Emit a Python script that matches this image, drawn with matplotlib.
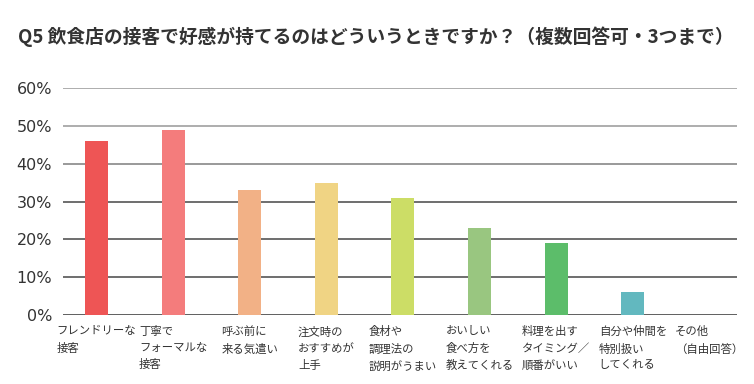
import numpy as np
import matplotlib
matplotlib.use("Agg")
import matplotlib.pyplot as plt

# -----------------------------------------------------------------------------
# Data
# -----------------------------------------------------------------------------
title = "Q5 飲食店の接客で好感が持てるのはどういうときですか？（複数回答可・3つまで）"

categories = [
    "フレンドリーな\n接客",
    "丁寧で\nフォーマルな\n接客",
    "呼ぶ前に\n来る気遣い",
    "注文時の\nおすすめが\n上手",
    "食材や\n調理法の\n説明がうまい",
    "おいしい\n食べ方を\n教えてくれる",
    "料理を出す\nタイミング／\n順番がいい",
    "自分や仲間を\n特別扱い\nしてくれる",
    "その他\n（自由回答）",
]
values = [46, 49, 33, 35, 31, 23, 19, 6, 0]

yticks = [0, 10, 20, 30, 40, 50, 60]
ytick_labels = [f"{v}%" for v in yticks]

colors = ["#EE5555", "#F47C7C", "#F2B186", "#F0D484", "#CCDD66",
          "#99C680", "#5CBD6A", "#62B8BF", "#AAAAAA"]
grid_colors = ["#444444", "#555555", "#555555", "#555555", "#888888", "#A0A0A0", "#A0A0A0"]

jp = ["Noto Sans CJK JP", "DejaVu Sans"]

# -----------------------------------------------------------------------------
# Plot
# -----------------------------------------------------------------------------
fig = plt.figure(figsize=(7.54, 3.84), dpi=100)
ax = fig.add_axes([63 / 754, 1 - 315 / 384, (737 - 63) / 754, (315 - 88) / 384])

x = np.arange(len(categories))
ax.bar(x, values, width=0.30, color=colors, zorder=3)

for v, c in zip(yticks, grid_colors):
    ax.axhline(v, color=c, linewidth=1.2, zorder=1)

ax.set_xlim(-0.437, 8.36)
ax.set_ylim(0, 60)
ax.set_yticks(yticks)
ax.set_yticklabels(ytick_labels, fontsize=11.5, family="DejaVu Sans", color="#333333")
ax.set_xticks(x)
ax.set_xticklabels(categories, fontsize=8.2, family=jp, color="#333333",
                   ha="center", linespacing=1.7)
for lbl in ax.get_xticklabels():
    lbl.set_multialignment("left")
    lbl.set_verticalalignment("top")

ax.tick_params(axis="both", length=0)
ax.tick_params(axis="x", pad=8)
ax.tick_params(axis="y", pad=8)
for s in ax.spines.values():
    s.set_visible(False)

fig.text(18 / 754, 1 - 37 / 384, title, fontsize=13.5, fontweight="bold",
         family=jp, color="#333333", va="center", ha="left")

fig.savefig("out.png", dpi=100)
